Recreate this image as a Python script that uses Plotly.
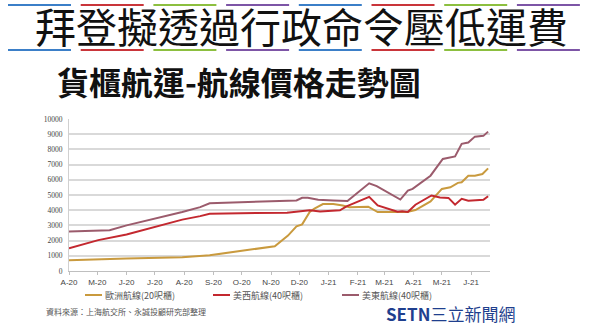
import plotly.graph_objects as go
import pandas as pd

# ---------------- data ----------------
title_text = "拜登擬透過行政命令壓低運費"
subtitle_text = "貨櫃航運-航線價格走勢圖"
source_text = "資料來源：上海航交所、永誠投顧研究部整理"

series_names = ["歐洲航線(20呎櫃)", "美西航線(40呎櫃)", "美東航線(40呎櫃)"]

eu_dates = ["2020-04-01", "2020-06-01", "2020-07-30", "2020-08-28", "2020-11-05", "2020-11-19",
            "2020-11-28", "2020-12-04", "2020-12-12", "2020-12-17", "2020-12-26", "2021-01-06",
            "2021-01-16", "2021-01-23", "2021-02-12", "2021-02-22", "2021-03-25", "2021-04-03",
            "2021-04-19", "2021-05-01", "2021-05-10", "2021-05-18", "2021-05-22", "2021-05-29",
            "2021-06-05", "2021-06-13", "2021-06-19"]
eu_vals = [700, 830, 900, 1030, 1630, 2330, 2940, 3070, 3880, 4100, 4400, 4400, 4310, 4200,
           4230, 3880, 3880, 4010, 4580, 5400, 5510, 5800, 5840, 6270, 6270, 6380, 6750]

usw_dates = ["2020-04-01", "2020-05-02", "2020-06-01", "2020-07-01", "2020-07-30", "2020-08-18",
             "2020-08-28", "2020-11-18", "2020-12-02", "2020-12-12", "2020-12-23", "2021-01-10",
             "2021-01-13", "2021-01-20", "2021-02-13", "2021-02-22", "2021-03-04", "2021-03-15",
             "2021-03-20", "2021-03-26", "2021-04-03", "2021-04-20", "2021-04-29", "2021-05-08",
             "2021-05-15", "2021-05-22", "2021-05-29", "2021-06-14", "2021-06-19"]
usw_vals = [1500, 2030, 2400, 2900, 3380, 3610, 3770, 3840, 3900, 3990, 3920, 3960, 3990, 4250,
            4880, 4310, 4100, 3900, 3930, 3880, 4360, 4970, 4840, 4810, 4360, 4750, 4620, 4680, 4920]

use_dates = ["2020-04-01", "2020-05-14", "2020-06-01", "2020-07-01", "2020-07-30", "2020-08-18",
             "2020-08-28", "2020-11-28", "2020-12-04", "2020-12-10", "2020-12-21", "2021-01-06",
             "2021-01-13", "2021-01-21", "2021-02-13", "2021-02-21", "2021-03-18", "2021-03-26",
             "2021-03-31", "2021-04-19", "2021-05-02", "2021-05-15", "2021-05-22", "2021-05-29",
             "2021-06-05", "2021-06-14", "2021-06-19"]
use_vals = [2600, 2680, 3000, 3440, 3880, 4200, 4460, 4640, 4820, 4820, 4690, 4640, 4640, 4600,
            5770, 5580, 4700, 5290, 5400, 6270, 7370, 7540, 8370, 8450, 8840, 8890, 9170]

tick_labels = ["A-20", "M-20", "J-20", "J-20", "A-20", "S-20", "O-20", "N-20", "D-20",
               "J-21", "F-21", "M-21", "A-21", "M-21", "J-21"]
tick_dates = pd.date_range("2020-04-01", periods=len(tick_labels), freq="MS")

colors = ["#c99a3e", "#c3282f", "#9b5b6c"]
dash_colors = ["#3b7fc8", "#c9353a", "#8cbf3f", "#7d55a6"]

# ---------------- layout helpers ----------------
W, H = 600, 325
L, R, T, B = 69, 110, 119, 54
PW, PH = W - L - R, H - T - B


def px(x):
    return (x - L) / PW


def py(y):
    return (H - B - y) / PH


fig = go.Figure()
for name, xs, ys, c in zip(series_names, [eu_dates, usw_dates, use_dates],
                           [eu_vals, usw_vals, use_vals], colors):
    fig.add_trace(go.Scatter(x=pd.to_datetime(xs), y=ys, mode="lines", name=name,
                             line=dict(color=c, width=2), showlegend=False))

shapes = []
for i in range(8):
    x0 = 8 + i * 72.7
    for yy in (5, 50):
        shapes.append(dict(type="line", xref="paper", yref="paper",
                           x0=px(x0), x1=px(x0 + 63), y0=py(yy), y1=py(yy),
                           line=dict(color=dash_colors[i % 4], width=2)))

annotations = [
    dict(text=title_text, x=px(301), y=py(25), xref="paper", yref="paper",
         showarrow=False, xanchor="center", yanchor="middle", borderpad=0,
         font=dict(family="Noto Sans CJK TC", size=41, color="#111111")),
    dict(text="<b>" + subtitle_text + "</b>", x=px(55), y=py(81), xref="paper", yref="paper",
         showarrow=False, xanchor="left", yanchor="middle",
         font=dict(family="Noto Sans CJK TC", size=32, color="#111111")),
    dict(text=source_text, x=px(44), y=py(311), xref="paper", yref="paper",
         showarrow=False, xanchor="left", yanchor="middle",
         font=dict(family="Noto Sans CJK TC", size=8, color="#555555")),
    dict(text="<b>SETN</b>三立新聞網", x=px(384), y=py(313), xref="paper", yref="paper",
         showarrow=False, xanchor="left", yanchor="middle",
         font=dict(family="Noto Sans CJK TC", size=17, color="#1f3f8e")),
]

# custom legend (swatch line + label)
legend_x = [85, 213, 342]
for name, c, lx in zip(series_names, colors, legend_x):
    shapes.append(dict(type="line", xref="paper", yref="paper",
                       x0=px(lx), x1=px(lx + 17), y0=py(295), y1=py(295),
                       line=dict(color=c, width=2)))
    annotations.append(dict(text=name, x=px(lx + 18), y=py(295), xref="paper", yref="paper",
                            showarrow=False, xanchor="left", yanchor="middle",
                            font=dict(family="Noto Sans CJK TC", size=9, color="#555555")))

fig.update_layout(
    width=W, height=H,
    margin=dict(l=L, r=R, t=T, b=B),
    paper_bgcolor="white", plot_bgcolor="white",
    shapes=shapes, annotations=annotations,
    showlegend=False,
    xaxis=dict(type="date", range=[pd.Timestamp("2020-04-01"), pd.Timestamp("2021-06-21")],
               tickvals=tick_dates, ticktext=tick_labels, showgrid=False,
               showline=True, linecolor="#bfbfbf", linewidth=1,
               ticks="outside", ticklen=3, tickcolor="#bfbfbf",
               tickfont=dict(family="Liberation Sans", size=8, color="#444444")),
    yaxis=dict(range=[0, 10000], dtick=1000, tickformat="d", showgrid=True,
               gridcolor="#d9d9d9", gridwidth=1.5,
               showline=True, linecolor="#d0d0d0", linewidth=1, zeroline=False,
               tickfont=dict(family="Liberation Serif", size=7.5, color="#444444"),
               ticks="", ticklabelstandoff=4),
)

fig.write_html("out.html")
